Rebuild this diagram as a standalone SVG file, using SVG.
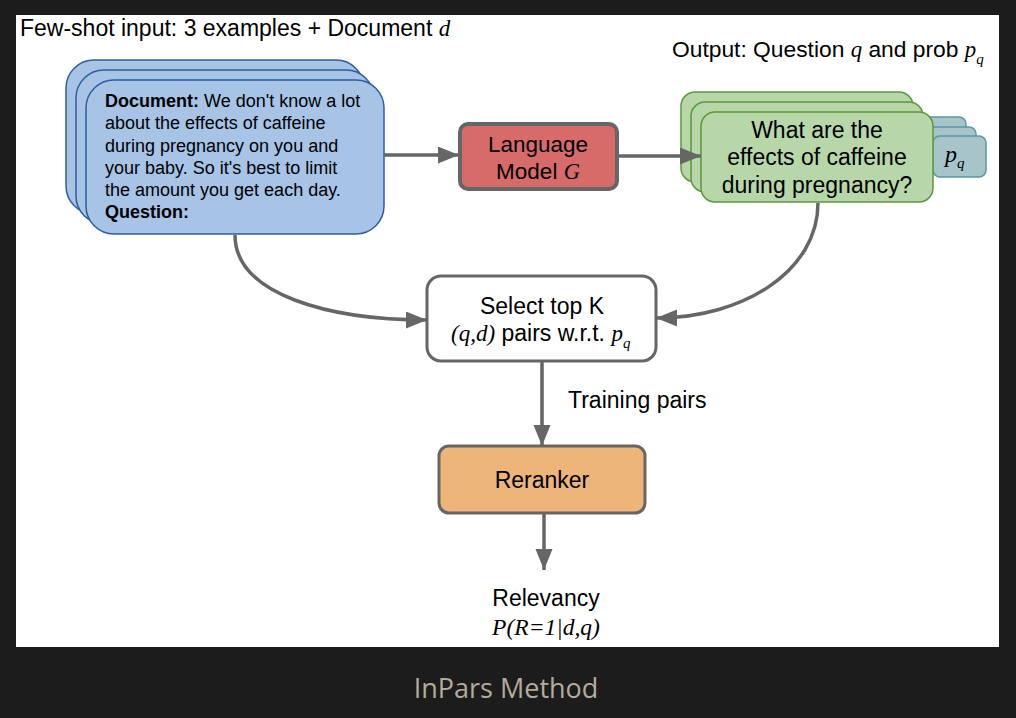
<svg xmlns="http://www.w3.org/2000/svg" width="1016" height="718" viewBox="0 0 1016 718">
<style>
.sans{font-family:"Liberation Sans",Arial,sans-serif;fill:#000}
.math{font-family:"Liberation Serif","Times New Roman",serif;font-style:italic}
.blue{fill:#a7c3e6;stroke:#2f5e9e;stroke-width:1.5}
.green{fill:#b8d7a9;stroke:#5e9640;stroke-width:1.5}
.pq{fill:#a6c4ca;stroke:#5a97a3;stroke-width:1.5}
.conn{fill:none;stroke:#666;stroke-width:3.5}
</style>
<defs>
<marker id="arr" markerUnits="userSpaceOnUse" markerWidth="22" markerHeight="18" refX="21" refY="8.5" orient="auto">
<path d="M0,0 L21,8.5 L0,17 z" fill="#666"/>
</marker>
</defs>
<rect x="0" y="0" width="1016" height="718" fill="#1c1c1c"/>
<rect x="16" y="15" width="983" height="632" fill="#ffffff"/>

<text class="sans" x="20" y="36" font-size="23">Few-shot input: 3 examples + Document <tspan class="math">d</tspan></text>
<text class="sans" x="672" y="57" font-size="22.8">Output: Question <tspan class="math">q</tspan> and prob <tspan class="math">p</tspan><tspan class="math" font-size="15" dy="7">q</tspan></text>

<g id="input-doc">
<rect class="blue" x="66" y="60" width="298" height="154" rx="28"/>
<rect class="blue" x="76" y="70" width="298" height="154" rx="28"/>
<rect class="blue" x="86" y="80" width="298" height="154" rx="28"/>
<text class="sans" font-size="18">
<tspan x="105" y="107"><tspan font-weight="bold">Document:</tspan> We don't know a lot</tspan>
<tspan x="105" y="129.3">about the effects of caffeine</tspan>
<tspan x="105" y="151.6">during pregnancy on you and</tspan>
<tspan x="105" y="174">your baby. So it's best to limit</tspan>
<tspan x="105" y="196">the amount you get each day.</tspan>
<tspan x="105" y="218.3" font-weight="bold">Question:</tspan>
</text>
</g>

<g id="language-model">
<rect x="460" y="124" width="157" height="65" rx="8" fill="#d76b69" stroke="#666" stroke-width="4"/>
<text class="sans" font-size="22.5" text-anchor="middle"><tspan x="538" y="152">Language</tspan><tspan x="538" y="179">Model <tspan class="math">G</tspan></tspan></text>
</g>

<g id="pq-stack">
<rect class="pq" x="913" y="117" width="53" height="41" rx="7"/>
<rect class="pq" x="923" y="127" width="53" height="41" rx="7"/>
<rect class="pq" x="933" y="136" width="53" height="41" rx="7"/>
<text x="945" y="162" font-size="24" class="math">p<tspan font-size="15" dy="6">q</tspan></text>
</g>

<g id="output-question">
<rect class="green" x="681" y="92" width="232" height="90" rx="14"/>
<rect class="green" x="691" y="102" width="232" height="90" rx="14"/>
<rect class="green" x="701" y="112" width="232" height="90" rx="14"/>
<text class="sans" font-size="23" text-anchor="middle"><tspan x="817" y="138">What are the</tspan><tspan x="817" y="165">effects of caffeine</tspan><tspan x="817" y="193">during pregnancy?</tspan></text>
</g>

<g id="select-topk">
<rect x="427" y="276" width="229" height="85" rx="14" fill="#fff" stroke="#666" stroke-width="3"/>
<text class="sans" font-size="23" text-anchor="middle"><tspan x="542" y="314">Select top K</tspan></text>
<text class="sans" font-size="23" x="451" y="341"><tspan class="math">(q,d)</tspan> pairs w.r.t. <tspan class="math">p</tspan><tspan class="math" font-size="15" dy="7">q</tspan></text>
</g>

<text class="sans" x="568" y="408" font-size="23">Training pairs</text>

<g id="reranker">
<rect x="439" y="446" width="206" height="67" rx="10" fill="#edb579" stroke="#666" stroke-width="3"/>
<text class="sans" x="542" y="488" font-size="23" text-anchor="middle">Reranker</text>
</g>

<g id="relevancy">
<text class="sans" x="546" y="606" font-size="23" text-anchor="middle">Relevancy</text>
<text class="math" x="546" y="635" font-size="23.5" text-anchor="middle">P(R=1|d,q)</text>
</g>

<g id="connectors">
<line class="conn" x1="384" y1="155" x2="459" y2="155" marker-end="url(#arr)"/>
<line class="conn" x1="618" y1="156" x2="701" y2="156" marker-end="url(#arr)"/>
<path class="conn" d="M235,235 C235,295 330,320 427,320" marker-end="url(#arr)"/>
<path class="conn" d="M818,203 C818,270 745,318 656,318" marker-end="url(#arr)"/>
<line class="conn" x1="542" y1="362" x2="542" y2="446" marker-end="url(#arr)"/>
<line class="conn" x1="544" y1="514" x2="544" y2="570" marker-end="url(#arr)"/>
</g>

<text x="506" y="698" font-family="'Open Sans','Noto Sans',sans-serif" font-size="27" fill="#b3ab9d" text-anchor="middle">InPars Method</text>
</svg>
